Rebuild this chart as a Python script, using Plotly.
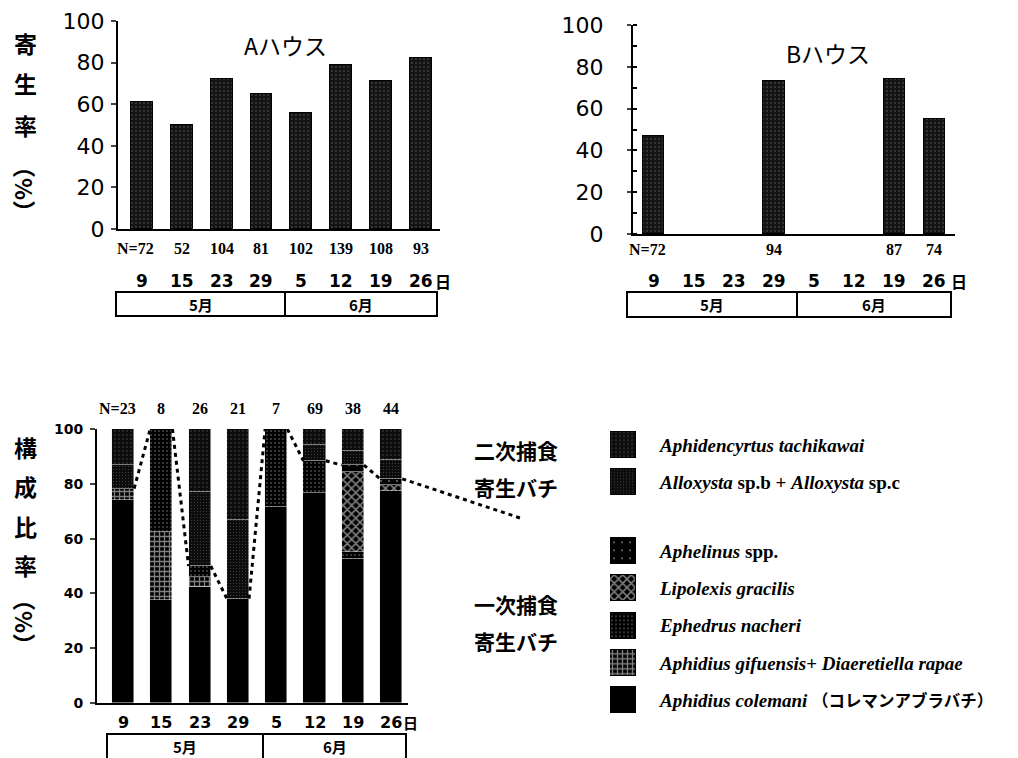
import plotly.graph_objects as go

# ---------------- data ----------------
days = ["9", "15", "23", "29", "5", "12", "19", "26"]
months = ["5月", "6月"]

rate_A = [61, 50, 72, 65, 56, 79, 71, 82]
n_A = [72, 52, 104, 81, 102, 139, 108, 93]
rate_B = [47, None, None, 73, None, None, 74, 55]
n_B = [72, None, None, 94, None, None, 87, 74]

n_comp = [23, 8, 26, 21, 7, 69, 38, 44]
colemani = [17, 3, 11, 8, 5, 53, 20, 34]
gifuensis = [1, 2, 1, 0, 0, 0, 0, 0]
ephedrus = [0, 3, 1, 0, 2, 8, 1, 0]
lipolexis = [0, 0, 0, 0, 0, 0, 11, 1]
aphelinus = [0, 0, 0, 0, 0, 0, 1, 1]
alloxysta = [2, 0, 7, 6, 0, 4, 2, 3]
aphidencyrtus = [3, 0, 6, 7, 0, 4, 3, 5]

legend_labels = [
    "<i>Aphidencyrtus tachikawai</i>",
    "<i>Alloxysta</i> sp.b + <i>Alloxysta</i> sp.c",
    "<i>Aphelinus</i> spp.",
    "<i>Lipolexis gracilis</i>",
    "<i>Ephedrus nacheri</i>",
    "<i>Aphidius gifuensis</i>+ <i>Diaeretiella rapae</i>",
    "<i>Aphidius colemani</i> <span style='font-size:16.5px'>（コレマンアブラバチ）</span>",
]
group_labels = ["二次捕食", "寄生バチ", "一次捕食", "寄生バチ"]

# ---------------- layout helpers ----------------
W, H = 1018, 758
OFF = 8  # page body margin of the rendered html
def xp(px): return (px - OFF) / W
def yp(py): return 1 - (py - OFF) / H

CJK = "Noto Sans CJK JP"
NUM = "DejaVu Sans"
SERIF = "Liberation Serif"

idx = list(range(len(days)))

domA = dict(x=[xp(118), xp(440)], y=[yp(229), yp(21)], xr=[-0.6, 7.48])
domB = dict(x=[xp(633), xp(955)], y=[yp(234), yp(25)], xr=[-0.52, 7.52])
domC = dict(x=[xp(97), xp(408)], y=[yp(703), yp(429)], xr=[-0.68, 7.44])

def data2paper_x(d, v):
    r0, r1 = d["xr"]
    return d["x"][0] + (v - r0) / (r1 - r0) * (d["x"][1] - d["x"][0])

def data2paper_y(d, v):
    return d["y"][0] + v / 100 * (d["y"][1] - d["y"][0])

fig = go.Figure()

top_bar_marker = dict(color="#141414", line=dict(color="black", width=1),
                      pattern=dict(shape=".", fgcolor="#a8a8a8", size=4, solidity=0.12))

fig.add_trace(go.Bar(x=idx, y=rate_A, width=0.55, marker=top_bar_marker,
                     xaxis="x", yaxis="y", showlegend=False))
fig.add_trace(go.Bar(x=idx, y=rate_B, width=0.53, marker=top_bar_marker,
                     xaxis="x2", yaxis="y2", showlegend=False))

# ---------------- composition ----------------
series = [  # bottom to top
    (colemani, dict(color="black")),
    (gifuensis, dict(color="black", pattern=dict(shape="+", fgcolor="white", bgcolor="black", size=5, solidity=0.45))),
    (ephedrus, dict(color="black", pattern=dict(shape=".", fgcolor="white", bgcolor="black", size=4, solidity=0.12))),
    (lipolexis, dict(color="black", pattern=dict(shape="x", fgcolor="white", bgcolor="black", size=6, solidity=0.45))),
    (aphelinus, dict(color="black", pattern=dict(shape=".", fgcolor="white", bgcolor="black", size=8, solidity=0.04))),
    (alloxysta, dict(color="#0c0c0c", pattern=dict(shape=".", fgcolor="#8a8a8a", bgcolor="#0c0c0c", size=3, solidity=0.1))),
    (aphidencyrtus, dict(color="#0c0c0c", pattern=dict(shape=".", fgcolor="#9a9a9a", bgcolor="#0c0c0c", size=4, solidity=0.1))),
]
wC = 0.58
for counts, mk in series:
    pct = [c / n * 100 for c, n in zip(counts, n_comp)]
    fig.add_trace(go.Bar(x=idx, y=pct, width=wC, marker=mk, xaxis="x3", yaxis="y3",
                         showlegend=False))

primary = [(a + b + c + d + e) / n * 100 for a, b, c, d, e, n in
           zip(colemani, gifuensis, ephedrus, lipolexis, aphelinus, n_comp)]
lx, ly = [], []
for i in range(len(idx) - 1):
    lx += [idx[i] + wC / 2, idx[i + 1] - wC / 2, None]
    ly += [primary[i], primary[i + 1], None]
fig.add_trace(go.Scatter(x=lx, y=ly, mode="lines", xaxis="x3", yaxis="y3",
                         line=dict(color="black", width=3, dash="4px,4px"),
                         showlegend=False, connectgaps=False))

# legend swatches (hidden subplot)
slots = [0, 1, 2.85, 3.85, 4.85, 5.85, 6.85]
legend_markers = [mk for _, mk in series][::-1]
for s, mk in zip(slots, legend_markers):
    fig.add_trace(go.Bar(x=[1], y=[s], orientation="h", width=0.7,
                         marker=dict(mk, line=dict(color="black", width=1)),
                         xaxis="x4", yaxis="y4", showlegend=False))

# ---------------- axes ----------------
def xax(d):
    return dict(domain=d["x"], range=d["xr"], showline=True, linecolor="black", linewidth=2,
                showticklabels=False, ticks="", showgrid=False, zeroline=False, fixedrange=True,
                automargin=False)

fig.update_layout(
    width=W, height=H, margin=dict(l=0, r=0, t=0, b=0, pad=0, autoexpand=False),
    paper_bgcolor="white", plot_bgcolor="white", barmode="stack", bargap=0, showlegend=False,
    xaxis=dict(xax(domA), anchor="y"),
    yaxis=dict(domain=domA["y"], range=[0, 100], anchor="x", showline=True, linecolor="black", linewidth=2,
               ticks="outside", ticklen=5, tickwidth=2, dtick=20, showgrid=False, zeroline=False,
               automargin=False,
               tickfont=dict(family=NUM, size=22, color="black"), ticklabelstandoff=2),
    xaxis2=dict(xax(domB), anchor="y2"),
    yaxis2=dict(domain=domB["y"], range=[0, 100], anchor="x2", showline=True, linecolor="black", linewidth=2,
                ticks="outside", ticklen=4, tickwidth=2, dtick=20, showgrid=False, zeroline=False,
                automargin=False,
                minor=dict(ticks="inside", dtick=10, ticklen=4, tickwidth=1.5, tickcolor="black", showgrid=False),
                tickfont=dict(family=NUM, size=22, color="black"), ticklabelstandoff=19),
    xaxis3=dict(xax(domC), anchor="y3"),
    yaxis3=dict(domain=domC["y"], range=[0, 100], anchor="x3", showline=True, linecolor="black", linewidth=2,
                ticks="outside", ticklen=5, tickwidth=2, dtick=20, showgrid=False, zeroline=False,
                automargin=False,
                tickfont=dict(family=NUM, size=14, color="black", weight="bold"), ticklabelstandoff=4),
    xaxis4=dict(domain=[xp(610), xp(636)], range=[0, 1], visible=False, anchor="y4", fixedrange=True),
    yaxis4=dict(domain=[yp(719.2), yp(426.35)], range=[7.35, -0.5], visible=False, anchor="x4", fixedrange=True),
)

ann = []
shapes = []

def text(x, y, s, size, family=CJK, bold=False, xref="paper", yref="paper",
         xanchor="center", yanchor="middle", **kw):
    ann.append(dict(x=x, y=y, text=s, xref=xref, yref=yref, showarrow=False,
                    xanchor=xanchor, yanchor=yanchor,
                    font=dict(family=family, size=size, color="black", weight="bold" if bold else "normal"),
                    **kw))

# titles
text(xp(285), yp(45), "Aハウス", 23)
text(xp(828), yp(53), "Bハウス", 23)

# N labels & days
def xlabels(d, ns, n_y, day_y, day_size, nsize, hi_x):
    for i, n in zip(idx, ns):
        if n is None:
            continue
        lab = f"N={n}" if i == 0 else str(n)
        text(data2paper_x(d, i), yp(n_y), lab, nsize, family=SERIF, bold=True,
             xshift=-6 if i == 0 else 0)
    for i, dd in zip(idx, days):
        text(data2paper_x(d, i), yp(day_y), dd, day_size, family=NUM, bold=True)
    text(xp(hi_x), yp(day_y), "日", day_size - 1, bold=True)

xlabels(domA, n_A, 248, 281, 17, 16, 443)
xlabels(domB, n_B, 249, 281, 17, 16, 959)
xlabels(domC, n_comp, 408, 722, 16, 16, 410)

# month boxes
def month_box(x0, xm, x1, y0, y1, lab_y):
    for a, b in [(x0, xm), (xm, x1)]:
        shapes.append(dict(type="rect", xref="paper", yref="paper", x0=xp(a), x1=xp(b),
                           y0=yp(y1), y1=yp(y0), line=dict(color="black", width=2)))
    text(xp((x0 + xm) / 2), yp(lab_y), months[0], 15, bold=True)
    text(xp((xm + x1) / 2), yp(lab_y), months[1], 15, bold=True)

month_box(116, 285, 437, 292, 316, 305)
month_box(627, 797, 951, 292, 317, 305)
month_box(107, 263, 406, 734, 775, 746)

# vertical y titles
for ch, py in zip("寄生率", [43, 83, 125]):
    text(xp(25), yp(py), ch, 23, bold=True)
text(xp(25), yp(189), "（%）", 23, bold=True, textangle=90)
for ch, py in zip("構成比率", [447, 486, 526, 565]):
    text(xp(25), yp(py), ch, 23, bold=True)
text(xp(25), yp(622), "（%）", 23, bold=True, textangle=90)

# group labels
for s, py in zip(group_labels, [450, 487, 604, 641]):
    text(xp(516), yp(py), s, 21, bold=True)

# legend text
for s, lab in zip(slots, legend_labels):
    text(xp(657), s, lab, 19, family=SERIF + ", " + CJK, bold=True, yref="y4", xanchor="left")

# dashed extension from last bar to the bracket
last = len(idx) - 1
shapes.append(dict(type="line", xref="paper", yref="paper",
                   x0=data2paper_x(domC, idx[last] + wC / 2), y0=data2paper_y(domC, primary[last]),
                   x1=xp(520), y1=yp(518), line=dict(color="black", width=3, dash="4px,4px")))

fig.update_layout(annotations=ann, shapes=shapes)
fig.write_html("out.html")
